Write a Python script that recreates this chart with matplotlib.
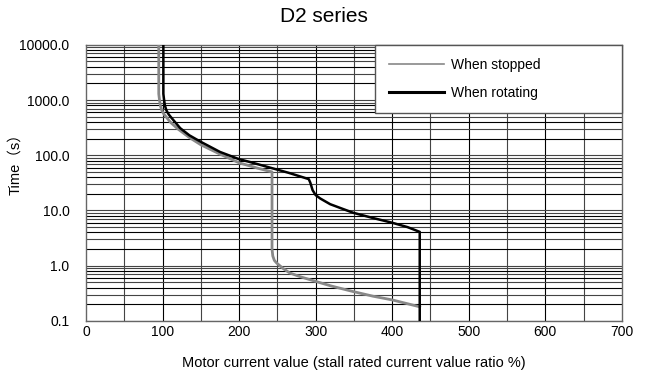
import matplotlib.pyplot as plt
import numpy as np

plt.rcParams['font.family'] = ['Liberation Sans', 'Noto Sans CJK JP', 'DejaVu Sans']

# values
stop_x = [95, 95, 96, 97, 99, 102, 106, 110, 120, 135, 150, 175, 200, 225, 243,
          243, 244, 246, 249, 257, 266, 280, 300, 320, 349, 375, 400, 436]
stop_y = [10000, 1300, 1000, 800, 650, 550, 470, 400, 300, 210, 155, 105, 73, 58, 50,
          2.0, 1.5, 1.25, 1.12, 0.9, 0.74, 0.63, 0.52, 0.43, 0.34, 0.28, 0.24, 0.18]

rot_x = [101, 101, 102, 103, 105, 108, 112, 123, 135, 150, 175, 200, 215, 240, 265, 291,
         293, 296, 300, 306, 319, 333, 349, 375, 400, 420, 436, 436]
rot_y = [10000, 1300, 1000, 800, 650, 550, 470, 310, 230, 175, 115, 85, 75, 60, 48, 37,
         32, 23.4, 19, 16.5, 13, 11, 9.1, 7.3, 6.0, 5.0, 4.1, 0.1]

x_ticks = [0, 100, 200, 300, 400, 500, 600, 700]
y_ticks = [0.1, 1, 10, 100, 1000, 10000]

fig = plt.figure(figsize=(6.47, 3.74), dpi=100)
ax = fig.add_axes([0.133, 0.142, 0.828, 0.738])

ax.set_yscale('log')
ax.set_xlim(0, 700)
ax.set_ylim(0.1, 10000)

# grid drawn by hand so the colours alternate like the original
for v in range(50, 700, 50):
    c = 'black' if v % 100 == 0 else '#444444'
    ax.axvline(v, color=c, lw=0.8, zorder=1)
for d in [0.1, 1, 10, 100, 1000]:
    for m in range(1, 10):
        c = 'black' if m % 2 == 0 else '#444444'
        ax.axhline(d * m, color=c, lw=0.8, zorder=1)

ax.plot(stop_x, stop_y, color='#888888', lw=2, label='When stopped', zorder=3)
ax.plot(rot_x, rot_y, color='black', lw=1.8, label='When rotating', zorder=4)

ax.set_xticks(x_ticks)
ax.set_yticks(y_ticks)
ax.set_yticklabels([f'{t:.1f}' for t in y_ticks])
ax.yaxis.set_minor_locator(plt.NullLocator())
ax.tick_params(length=0, labelsize=10)
ax.tick_params(axis='y', pad=12)
ax.tick_params(axis='x', pad=3)
for s in ax.spines.values():
    s.set_color('#666666')
    s.set_linewidth(1)

ax.set_xlabel('Motor current value (stall rated current value ratio %)', fontsize=10.5, labelpad=12)
ax.set_ylabel('Time（s）', fontsize=10.5)
ax.yaxis.set_label_coords(-0.119, 0.58)
fig.suptitle('D2 series', fontsize=15, y=0.955, va='center')

leg = ax.legend(loc='upper right', bbox_to_anchor=(0.54, 0.5, 0.46, 0.5), mode='expand',
                fontsize=10, fancybox=False, framealpha=1,
                edgecolor='#555555', borderaxespad=0, handlelength=4.0,
                borderpad=0.95, labelspacing=1.0, handletextpad=0.5)
leg.get_lines()[0].set_linewidth(1.2)
leg.get_lines()[1].set_linewidth(2.2)
leg.get_frame().set_linewidth(1)

fig.savefig('out.png', dpi=100)
